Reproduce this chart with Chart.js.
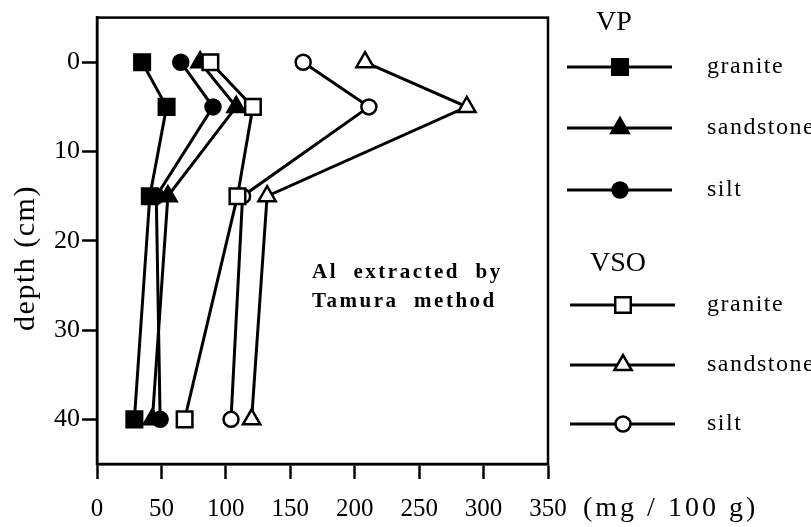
<!DOCTYPE html>
<html>
<head>
<meta charset="utf-8">
<script src="https://cdn.jsdelivr.net/npm/chart.js@4/dist/chart.umd.min.js"></script>
<style>
  html, body { margin: 0; padding: 0; background: #fff; }
</style>
</head>
<body>
<canvas id="chart" width="811" height="527"></canvas>
<script>
// sampling depths (cm)
const depths = [0, 5, 15, 40];

// Al extracted by Tamura method (mg / 100 g), one value per depth
const vpGranite = [35, 54, 41, 29];
const vpSandstone = [80, 108, 55, 43];
const vpSilt = [65, 90, 46, 49];
const vsoGranite = [88, 121, 109, 68];
const vsoSandstone = [208, 287, 132, 120];
const vsoSilt = [160, 211, 113, 104];

const xTicks = [0, 50, 100, 150, 200, 250, 300, 350];
const yTicks = [0, 10, 20, 30, 40];

const SERIF = "'Liberation Serif', 'Times New Roman', serif";

const marks = {
  rect: 11,
  triangle: 10,
  circle: 7.5,
};

function series(label, group, values, style, filled, order) {
  return {
    label: label,
    group: group,
    order: order,
    data: values.map((v, i) => ({ x: v, y: depths[i] })),
    showLine: true,
    borderColor: '#000',
    borderWidth: 3,
    pointStyle: style,
    pointRadius: marks[style],
    pointHoverRadius: marks[style],
    pointBackgroundColor: filled ? '#000' : '#fff',
    pointBorderColor: '#000',
    pointBorderWidth: 2.5,
  };
}

// lower order is painted last (on top)
const datasets = [
  series('granite', 'VP', vpGranite, 'rect', true, 1),
  series('sandstone', 'VP', vpSandstone, 'triangle', true, 3),
  series('silt', 'VP', vpSilt, 'circle', true, 2),
  series('granite', 'VSO', vsoGranite, 'rect', false, 0),
  series('sandstone', 'VSO', vsoSandstone, 'triangle', false, 4),
  series('silt', 'VSO', vsoSilt, 'circle', false, 5),
];

// box, legend blocks and free text
const extras = {
  id: 'extras',
  afterDraw(chart) {
    const ctx = chart.ctx;
    const a = chart.chartArea;
    ctx.save();

    ctx.strokeStyle = '#000';
    ctx.lineWidth = 2.5;
    ctx.strokeRect(a.left, a.top, a.right - a.left, a.bottom - a.top);

    ctx.fillStyle = '#000';
    ctx.textBaseline = 'middle';

    // y title
    ctx.save();
    ctx.translate(26, 258);
    ctx.rotate(-Math.PI / 2);
    ctx.font = '30px ' + SERIF;
    ctx.textAlign = 'center';
    ctx.letterSpacing = '1.5px';
    ctx.fillText('depth (cm)', 0, 0);
    ctx.restore();

    // x units
    ctx.font = '28px ' + SERIF;
    ctx.textAlign = 'left';
    ctx.letterSpacing = '3px';
    ctx.fillText('(mg / 100 g)', 583, 509);

    // note inside the plot
    ctx.font = 'bold 21px ' + SERIF;
    ctx.letterSpacing = '2.5px';
    ctx.fillText('Al  extracted  by', 312, 273);
    ctx.fillText('Tamura  method', 312, 302);

    // legend
    const groups = [
      { name: 'VP', head: [614, 23], rows: [67, 128, 190], x0: 567, x1: 672, mx: 620 },
      { name: 'VSO', head: [618, 264], rows: [305, 365, 424], x0: 570, x1: 675, mx: 623 },
    ];
    groups.forEach(g => {
      ctx.letterSpacing = '0px';
      ctx.font = '28px ' + SERIF;
      ctx.textAlign = 'center';
      ctx.fillStyle = '#000';
      ctx.fillText(g.name, g.head[0], g.head[1]);

      const ds = chart.data.datasets.filter(d => d.group === g.name);
      ds.forEach((d, i) => {
        const y = g.rows[i];
        ctx.strokeStyle = '#000';
        ctx.lineWidth = 3;
        ctx.beginPath();
        ctx.moveTo(g.x0, y);
        ctx.lineTo(g.x1, y);
        ctx.stroke();

        ctx.fillStyle = d.pointBackgroundColor;
        ctx.strokeStyle = '#000';
        ctx.lineWidth = d.pointBorderWidth;
        Chart.helpers.drawPoint(ctx, {
          pointStyle: d.pointStyle,
          radius: d.pointRadius,
          borderWidth: d.pointBorderWidth,
          rotation: 0,
        }, g.mx, y);

        ctx.fillStyle = '#000';
        ctx.font = '24px ' + SERIF;
        ctx.textAlign = 'left';
        ctx.letterSpacing = '1.5px';
        ctx.fillText(d.label, 707, y);
      });
    });

    ctx.restore();
  },
};

const axisGrid = {
  drawOnChartArea: false,
  drawTicks: true,
  tickLength: 15,
  tickWidth: 2.5,
  color: '#000',
};

new Chart(document.getElementById('chart').getContext('2d'), {
  type: 'scatter',
  data: { datasets: datasets },
  options: {
    responsive: false,
    animation: false,
    devicePixelRatio: 1,
    events: [],
    layout: { padding: { left: 0, right: 263, top: 7, bottom: 0 } },
    plugins: {
      legend: { display: false },
      tooltip: { enabled: false },
    },
    scales: {
      x: {
        type: 'linear',
        min: 0,
        max: 350,
        afterBuildTicks: s => { s.ticks = xTicks.map(v => ({ value: v })); },
        afterFit: s => { s.height = 63; },
        grid: axisGrid,
        border: { display: true, color: '#000', width: 2.5 },
        ticks: {
          color: '#000',
          font: { family: SERIF, size: 25 },
          padding: 15,
        },
      },
      y: {
        type: 'linear',
        reverse: true,
        min: -5,
        max: 45,
        afterBuildTicks: s => { s.ticks = yTicks.map(v => ({ value: v })); },
        afterFit: s => { s.width = 97; },
        grid: axisGrid,
        border: { display: true, color: '#000', width: 2.5 },
        ticks: {
          color: '#000',
          font: { family: SERIF, size: 26 },
          padding: 2,
        },
      },
    },
  },
  plugins: [extras],
});
</script>
</body>
</html>
